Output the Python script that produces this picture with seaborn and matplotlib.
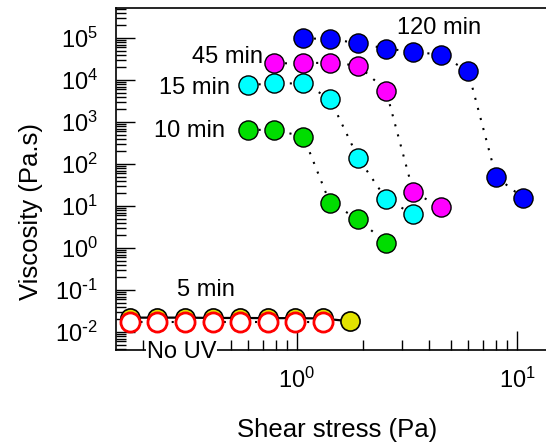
import numpy as np
import pandas as pd
import matplotlib
matplotlib.use("Agg")
import matplotlib.pyplot as plt
import seaborn as sns
from matplotlib.ticker import LogLocator, FuncFormatter, NullFormatter

sns.set_theme(style="white")
plt.rcParams['font.family'] = ['Liberation Sans', 'DejaVu Sans']
plt.rcParams['axes.unicode_minus'] = False
for key in ['text.color', 'axes.labelcolor', 'xtick.color', 'ytick.color']:
    plt.rcParams[key] = 'black'

# shear stress (Pa) / viscosity (Pa.s) for each UV exposure time
x_120 = [1.07, 1.41, 1.90, 2.54, 3.38, 4.51, 6.0, 8.03, 10.7]
y_120 = [9.8e4, 9.5e4, 7.5e4, 5.6e4, 4.7e4, 4.0e4, 1.6e4, 50, 15.4]
x_45 = [0.79, 1.07, 1.41, 1.90, 2.54, 3.38, 4.51]
y_45 = [2.5e4, 2.5e4, 2.6e4, 2.2e4, 5.6e3, 21, 9.6]
x_15 = [0.60, 0.79, 1.07, 1.41, 1.90, 2.54, 3.38]
y_15 = [7.6e3, 8.3e3, 8.3e3, 3.6e3, 138, 14.8, 6.3]
x_10 = [0.60, 0.79, 1.07, 1.41, 1.90, 2.54]
y_10 = [650, 650, 450, 12, 4.9, 1.3]
x_5 = [0.174, 0.232, 0.31, 0.413, 0.551, 0.735, 0.98, 1.31, 1.74]
y_5 = [0.022, 0.022, 0.022, 0.0216, 0.0216, 0.0214, 0.0214, 0.021, 0.018]
x_0 = [0.174, 0.232, 0.31, 0.413, 0.551, 0.735, 0.98, 1.31]
y_0 = [0.0176, 0.0176, 0.0176, 0.0176, 0.0176, 0.0176, 0.0176, 0.0176]


def pow10(v, pos):
    e = int(round(np.log10(v)))
    if e < 0:
        return r"$\mathdefault{10^{\text{-}%d}}$" % -e
    return r"$\mathdefault{10^{%d}}$" % e


fig = plt.figure(figsize=(5.46, 4.46), dpi=100)
ax = fig.add_axes([116 / 546, 96 / 446, 430 / 546, 342 / 446])

dotted = (0, (1, 4))
series = [
    (x_5, y_5, "#e3e300", "black", '-', 1.2),
    (x_0, y_0, "white", "#ff0000", dotted, 2.0),
    (x_10, y_10, "#00dd00", "black", dotted, 1.0),
    (x_15, y_15, "#00ffff", "black", dotted, 1.0),
    (x_45, y_45, "#ff00ff", "black", dotted, 1.0),
    (x_120, y_120, "#0000ff", "black", dotted, 1.0),
]
for xs, ys, fc, ec, ls, ew in series:
    sns.lineplot(x=xs, y=ys, color="black", linestyle=ls, lw=1.6 if ls == '-' else 1.5,
                 sort=False, ax=ax, zorder=2)
    sns.scatterplot(x=xs, y=ys, color=fc, edgecolor=ec, linewidth=ew, s=190,
                    ax=ax, zorder=3)

ax.set_xscale('log')
ax.set_yscale('log')
ax.set_xlim(0.1504, 13.55)
ax.set_ylim(0.00373, 5.18e5)

ax.xaxis.set_major_locator(LogLocator(base=10, numticks=10))
ax.xaxis.set_minor_locator(LogLocator(base=10, subs=np.arange(2, 10), numticks=20))
ax.yaxis.set_major_locator(LogLocator(base=10, numticks=20))
ax.yaxis.set_minor_locator(LogLocator(base=10, subs=np.arange(2, 10), numticks=40))
ax.xaxis.set_major_formatter(FuncFormatter(pow10))
ax.yaxis.set_major_formatter(FuncFormatter(pow10))
ax.xaxis.set_minor_formatter(NullFormatter())
ax.yaxis.set_minor_formatter(NullFormatter())

ax.tick_params(which='both', direction='in', left=True, bottom=True, top=False, right=False,
               color='black', width=1)
ax.tick_params(which='major', length=14, labelsize=17)
ax.tick_params(axis='y', which='major', pad=13)
ax.tick_params(axis='x', which='major', pad=13)
ax.tick_params(which='minor', length=7)

for side in ['left', 'bottom', 'top']:
    ax.spines[side].set_color('black')
    ax.spines[side].set_linewidth(1.2)
ax.spines['right'].set_visible(False)

ax.set_xlabel("Shear stress (Pa)", fontsize=18.5)
ax.set_ylabel("Viscosity (Pa.s)", fontsize=18.5)
ax.xaxis.set_label_coords(0.515, -0.2)
ax.yaxis.set_label_coords(-0.17, 0.406)

ax.text(2.85, 1.7e5, "120 min", fontsize=17, ha='left', va='center')
ax.text(0.70, 3.5e4, "45 min", fontsize=17, ha='right', va='center')
ax.text(0.496, 6.5e3, "15 min", fontsize=17, ha='right', va='center')
ax.text(0.47, 611, "10 min", fontsize=17, ha='right', va='center')
ax.text(0.285, 0.1, "5 min", fontsize=17, ha='left', va='center')
ax.text(0.208, 0.00334, "No UV", fontsize=17, ha='left', va='center', clip_on=False,
        bbox=dict(facecolor='white', edgecolor='none', pad=0.5), zorder=5)

fig.savefig("out.png", dpi=100)
